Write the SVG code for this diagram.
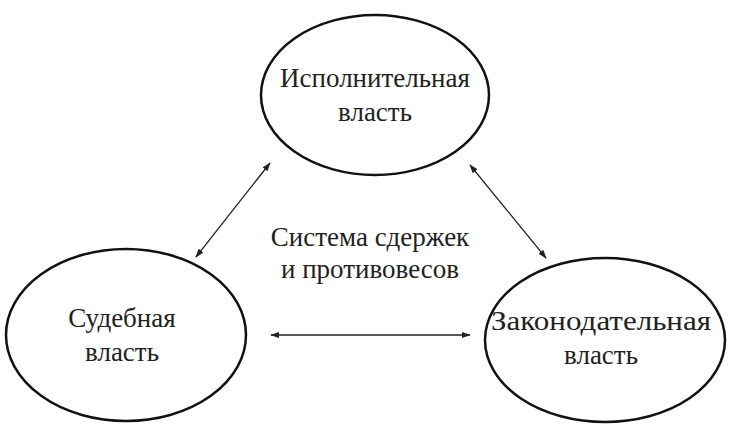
<svg xmlns="http://www.w3.org/2000/svg" width="738" height="434" viewBox="0 0 738 434">
<defs>
<style>
.n{fill:#fff;stroke:#111;stroke-width:2.5}
.t{font-family:"Liberation Serif",serif;font-size:27px;fill:#222;text-anchor:middle}
.c{stroke:#222;stroke-width:1.3;fill:none;marker-start:url(#a);marker-end:url(#a)}
</style>
<marker id="a" viewBox="0 0 10 10" refX="9" refY="5" markerWidth="9" markerHeight="9" orient="auto-start-reverse" markerUnits="userSpaceOnUse"><path d="M0,1.5L10,5L0,8.5z" fill="#222"/></marker>
</defs>
<rect width="738" height="434" fill="#fff"/>
<g id="connectors">
<line class="c" x1="196" y1="257" x2="270" y2="163"/>
<line class="c" x1="470" y1="165" x2="546" y2="258"/>
<line class="c" x1="271" y1="335" x2="470" y2="335"/>
</g>
<g id="exec"><ellipse class="n" cx="375" cy="95" rx="114" ry="80"/>
<text class="t" x="375" y="87">Исполнительная</text><text class="t" x="375" y="121">власть</text></g>
<g id="jud"><ellipse class="n" cx="126" cy="335" rx="120" ry="86"/>
<text class="t" x="122" y="327">Судебная</text><text class="t" x="122" y="361">власть</text></g>
<g id="leg"><ellipse class="n" cx="605" cy="340" rx="120" ry="82"/>
<text class="t" x="601" y="330" textLength="220" lengthAdjust="spacingAndGlyphs">Законодательная</text><text class="t" x="601" y="364">власть</text></g>
<g id="center"><text class="t" x="370" y="246">Система сдержек</text><text class="t" x="370" y="278">и противовесов</text></g>
</svg>
